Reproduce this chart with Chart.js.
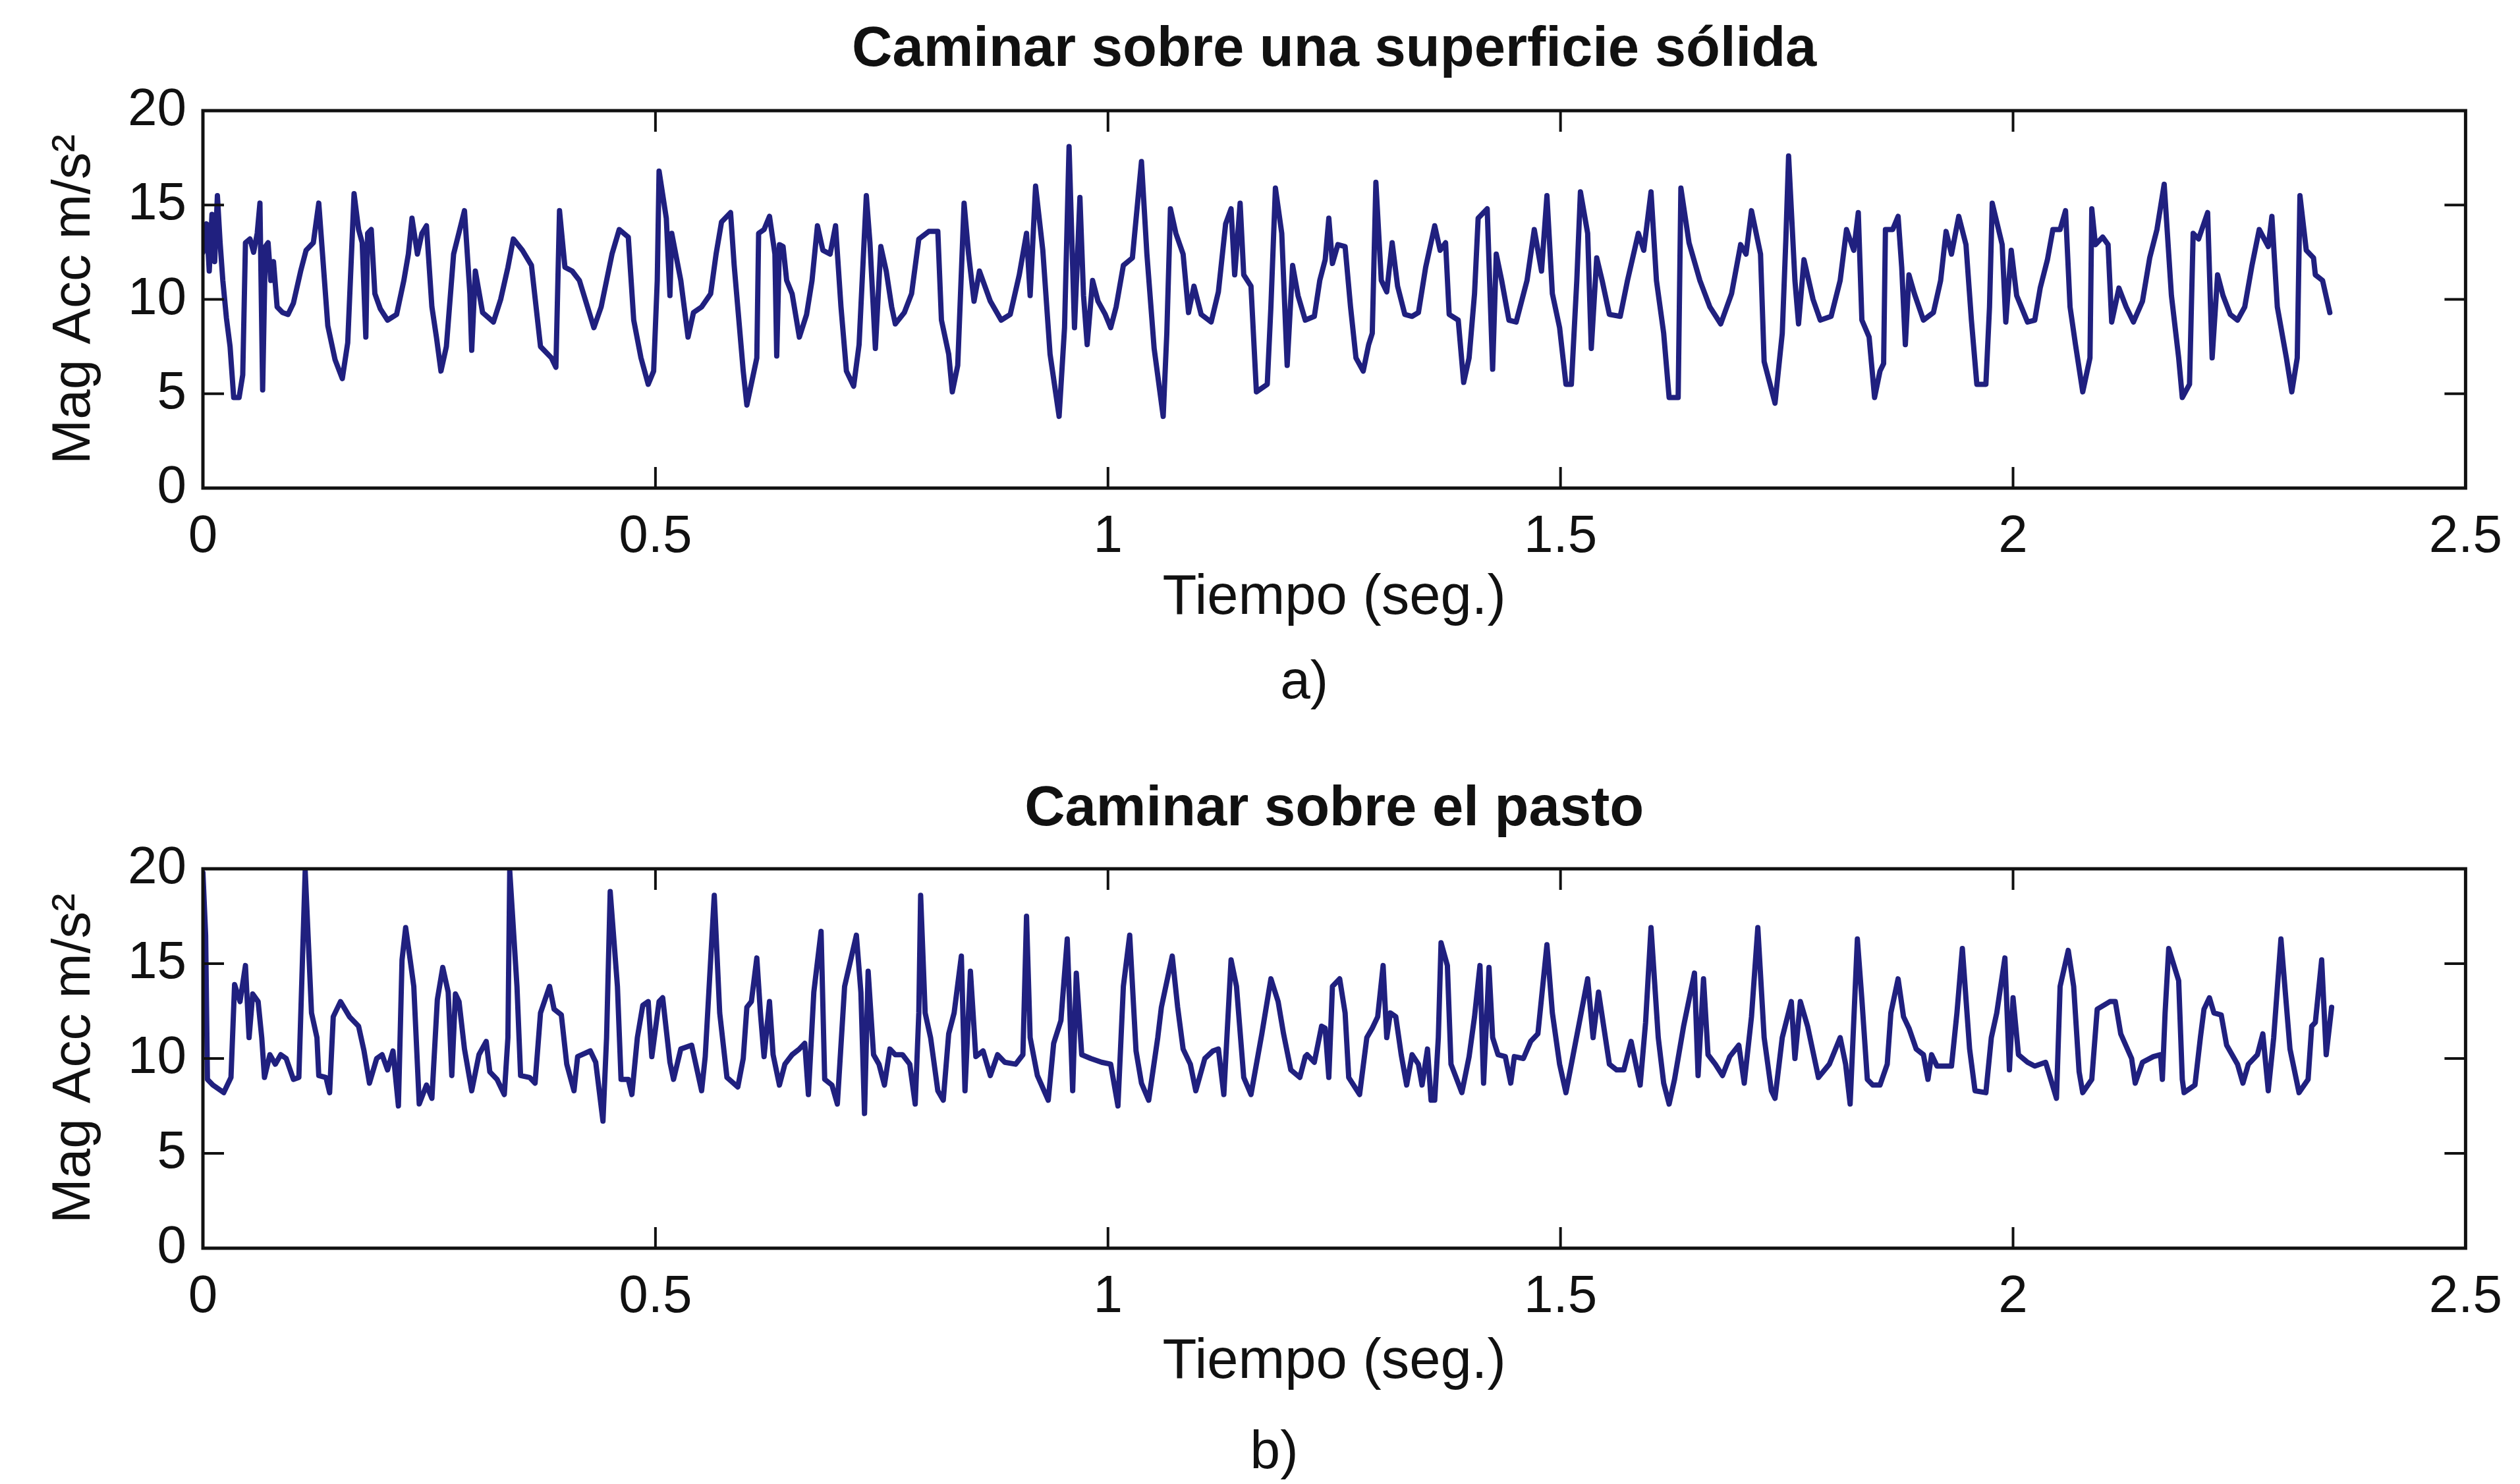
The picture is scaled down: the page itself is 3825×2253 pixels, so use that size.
<!DOCTYPE html>
<html>
<head>
<meta charset="utf-8">
<title>Caminar - magnitud de aceleracion</title>
<script src="https://cdn.jsdelivr.net/npm/chart.js@4.4.0/dist/chart.umd.min.js"></script>
<style>
  body { margin: 0; background: #fff; }
  canvas { position: absolute; left: 0; }
</style>
</head>
<body>
<canvas id="graficaA" width="3825" height="1130" style="top:0px"></canvas>
<canvas id="graficaB" width="3825" height="1123" style="top:1130px"></canvas>
<script>
const ticksX = [0, 0.5, 1, 1.5, 2, 2.5];
const ticksY = [0, 5, 10, 15, 20];

// [tiempo (seg), magnitud m/s2]
const solido = [
  [0.000,12.5],[0.004,14.0],[0.007,11.5],[0.010,14.5],[0.013,12.0],[0.016,15.5],[0.019,13.0],[0.022,11.0],[0.026,9.0],[0.030,7.5],
  [0.034,4.8],[0.040,4.8],[0.044,6.0],[0.047,13.0],[0.052,13.2],[0.056,12.5],[0.060,13.5],[0.063,15.1],[0.066,5.2],[0.069,12.8],
  [0.072,13.0],[0.075,11.0],[0.078,12.0],[0.082,9.6],[0.088,9.3],[0.094,9.2],[0.100,9.8],[0.108,11.5],[0.114,12.6],[0.122,13.0],
  [0.128,15.1],[0.132,12.5],[0.138,8.6],[0.146,6.8],[0.154,5.8],[0.160,7.7],[0.167,15.6],[0.172,13.7],[0.176,13.0],[0.180,8.0],
  [0.182,13.5],[0.186,13.7],[0.190,10.3],[0.196,9.5],[0.204,8.9],[0.214,9.2],[0.222,11.0],[0.227,12.4],[0.231,14.3],[0.237,12.4],
  [0.242,13.5],[0.247,13.9],[0.253,9.6],[0.258,8.0],[0.263,6.2],[0.269,7.5],[0.277,12.4],[0.289,14.7],[0.295,10.3],[0.297,7.3],
  [0.301,11.5],[0.309,9.3],[0.321,8.8],[0.329,10.0],[0.337,11.7],[0.343,13.2],[0.353,12.6],[0.363,11.8],[0.373,7.5],[0.385,6.9],
  [0.390,6.4],[0.394,14.7],[0.400,11.7],[0.408,11.5],[0.416,11.0],[0.432,8.5],[0.440,9.6],[0.452,12.4],[0.460,13.7],[0.470,13.3],
  [0.476,8.9],[0.484,6.9],[0.492,5.5],[0.498,6.2],[0.502,11.0],[0.504,16.8],[0.512,14.3],[0.516,10.2],[0.518,13.5],[0.528,11.0],
  [0.536,8.0],[0.542,9.3],[0.551,9.6],[0.561,10.3],[0.567,12.4],[0.573,14.1],[0.583,14.6],[0.587,11.8],[0.597,6.2],[0.601,4.4],
  [0.612,6.9],[0.614,13.5],[0.620,13.7],[0.626,14.4],[0.632,12.4],[0.634,7.0],[0.637,12.9],[0.641,12.8],[0.645,11.0],[0.651,10.3],
  [0.659,8.0],[0.667,9.2],[0.673,11.0],[0.679,13.9],[0.685,12.6],[0.693,12.4],[0.699,13.9],[0.705,9.6],[0.711,6.2],[0.719,5.4],
  [0.725,7.6],[0.727,9.6],[0.733,15.5],[0.737,13.0],[0.743,7.4],[0.749,12.8],[0.755,11.5],[0.761,9.6],[0.765,8.7],[0.775,9.3],
  [0.783,10.3],[0.791,13.2],[0.802,13.6],[0.812,13.6],[0.816,8.9],[0.824,7.1],[0.828,5.1],[0.834,6.5],[0.841,15.1],[0.846,12.4],
  [0.852,9.9],[0.858,11.5],[0.870,9.9],[0.882,8.9],[0.892,9.2],[0.902,11.3],[0.910,13.5],[0.914,10.2],[0.920,16.0],[0.928,12.6],
  [0.936,7.1],[0.946,3.8],[0.952,8.5],[0.957,18.1],[0.963,8.5],[0.969,15.4],[0.973,10.2],[0.977,7.6],[0.983,11.0],[0.989,9.9],
  [0.997,9.2],[1.003,8.5],[1.009,9.6],[1.017,11.8],[1.027,12.2],[1.037,17.3],[1.043,12.4],[1.051,7.4],[1.061,3.8],[1.065,8.2],
  [1.069,14.8],[1.075,13.5],[1.083,12.4],[1.089,9.3],[1.095,10.7],[1.103,9.2],[1.114,8.8],[1.122,10.4],[1.130,14.0],[1.136,14.8],
  [1.140,11.3],[1.146,15.1],[1.150,11.3],[1.158,10.7],[1.164,5.1],[1.176,5.5],[1.180,9.6],[1.185,15.9],[1.192,13.5],[1.198,6.5],
  [1.204,11.8],[1.210,10.2],[1.218,8.9],[1.228,9.1],[1.234,11.0],[1.240,12.1],[1.244,14.3],[1.248,11.9],[1.254,12.9],[1.262,12.8],
  [1.268,9.6],[1.274,6.9],[1.282,6.2],[1.288,7.6],[1.292,8.2],[1.296,16.2],[1.302,11.0],[1.308,10.4],[1.314,13.0],[1.320,10.7],
  [1.328,9.2],[1.336,9.1],[1.343,9.3],[1.351,11.7],[1.361,13.9],[1.367,12.6],[1.373,13.0],[1.377,9.2],[1.387,8.9],[1.393,5.6],
  [1.399,6.9],[1.405,10.3],[1.409,14.3],[1.419,14.8],[1.425,6.3],[1.429,12.4],[1.435,11.0],[1.443,8.9],[1.451,8.8],[1.463,11.0],
  [1.471,13.7],[1.479,11.5],[1.485,15.5],[1.491,10.3],[1.499,8.5],[1.506,5.5],[1.512,5.5],[1.518,11.0],[1.522,15.7],[1.530,13.5],
  [1.534,7.4],[1.540,12.2],[1.546,11.0],[1.554,9.2],[1.566,9.1],[1.574,11.0],[1.586,13.5],[1.592,12.6],[1.600,15.7],[1.606,11.0],
  [1.614,8.2],[1.620,4.8],[1.630,4.8],[1.633,15.9],[1.642,13.0],[1.654,11.0],[1.665,9.6],[1.677,8.7],[1.689,10.3],[1.699,12.9],
  [1.705,12.4],[1.711,14.7],[1.721,12.4],[1.725,6.7],[1.737,4.5],[1.745,8.2],[1.749,13.2],[1.752,17.6],[1.759,11.0],[1.763,8.7],
  [1.769,12.1],[1.779,10.0],[1.787,8.9],[1.799,9.1],[1.809,11.0],[1.816,13.7],[1.824,12.6],[1.829,14.6],[1.833,8.9],[1.841,8.0],
  [1.847,4.8],[1.853,6.2],[1.857,6.6],[1.859,13.7],[1.867,13.7],[1.873,14.4],[1.877,11.7],[1.881,7.6],[1.885,11.3],[1.891,10.3],
  [1.901,8.9],[1.912,9.3],[1.920,11.0],[1.926,13.6],[1.932,12.4],[1.940,14.4],[1.948,12.9],[1.954,8.9],[1.960,5.5],[1.970,5.5],
  [1.974,9.6],[1.977,15.1],[1.988,12.9],[1.992,8.8],[1.998,12.6],[2.004,10.2],[2.016,8.8],[2.024,8.9],[2.030,10.6],[2.038,12.1],
  [2.044,13.7],[2.052,13.7],[2.058,14.7],[2.063,9.6],[2.069,7.6],[2.077,5.1],[2.085,6.9],[2.087,14.8],[2.091,12.9],[2.099,13.3],
  [2.105,12.9],[2.109,8.8],[2.117,10.6],[2.125,9.6],[2.133,8.8],[2.143,9.9],[2.151,12.2],[2.159,13.7],[2.167,16.1],[2.175,10.2],
  [2.183,6.9],[2.187,4.8],[2.195,5.5],[2.199,13.5],[2.205,13.2],[2.215,14.6],[2.220,6.9],[2.226,11.3],[2.232,10.2],[2.240,9.2],
  [2.248,8.9],[2.256,9.6],[2.264,11.8],[2.272,13.7],[2.282,12.8],[2.286,14.4],[2.292,9.6],[2.302,6.9],[2.308,5.1],[2.314,6.9],
  [2.317,15.5],[2.324,12.6],[2.332,12.2],[2.334,11.3],[2.342,11.0],[2.350,9.3]
];

const pasto = [
  [0.000,19.8],[0.003,16.5],[0.005,8.9],[0.011,8.6],[0.023,8.2],[0.031,9.0],[0.035,13.9],[0.041,13.0],[0.047,14.9],[0.051,11.1],
  [0.055,13.4],[0.061,13.0],[0.065,11.1],[0.068,9.0],[0.074,10.2],[0.080,9.7],[0.086,10.2],[0.092,10.0],[0.100,8.9],[0.106,9.0],
  [0.113,19.9],[0.120,12.4],[0.126,11.1],[0.128,9.1],[0.136,9.0],[0.140,8.2],[0.144,12.2],[0.152,13.0],[0.162,12.2],[0.172,11.7],
  [0.178,10.4],[0.184,8.7],[0.192,10.0],[0.198,10.2],[0.204,9.4],[0.210,10.4],[0.216,7.5],[0.220,15.2],[0.224,16.9],[0.229,15.2],
  [0.233,13.8],[0.239,7.6],[0.247,8.6],[0.253,7.9],[0.259,13.1],[0.265,14.8],[0.271,13.5],[0.275,9.1],[0.279,13.4],[0.283,13.0],
  [0.289,10.5],[0.297,8.3],[0.305,10.2],[0.313,10.9],[0.317,9.3],[0.325,8.9],[0.333,8.1],[0.337,11.1],[0.339,19.9],[0.347,13.8],
  [0.351,9.1],[0.361,9.0],[0.367,8.7],[0.373,12.4],[0.383,13.8],[0.388,12.6],[0.396,12.3],[0.402,9.7],[0.410,8.3],[0.414,10.1],
  [0.428,10.4],[0.434,9.8],[0.442,6.7],[0.446,11.1],[0.450,18.8],[0.458,13.8],[0.462,8.9],[0.470,8.9],[0.474,8.1],[0.480,11.1],
  [0.486,12.8],[0.492,13.0],[0.496,10.1],[0.504,13.0],[0.508,13.2],[0.516,9.8],[0.520,8.9],[0.528,10.5],[0.540,10.7],[0.551,8.3],
  [0.555,10.1],[0.565,18.6],[0.571,12.4],[0.579,9.0],[0.591,8.5],[0.597,10.0],[0.601,12.7],[0.606,13.0],[0.612,15.3],[0.616,12.4],
  [0.620,10.1],[0.626,13.0],[0.630,10.2],[0.637,8.6],[0.643,9.7],[0.651,10.2],[0.659,10.5],[0.665,10.8],[0.669,8.1],[0.675,13.5],
  [0.683,16.7],[0.687,8.9],[0.695,8.6],[0.701,7.6],[0.709,13.8],[0.722,16.5],[0.727,13.5],[0.731,7.1],[0.735,14.6],[0.741,10.2],
  [0.747,9.7],[0.753,8.6],[0.759,10.5],[0.765,10.2],[0.773,10.2],[0.781,9.7],[0.787,7.6],[0.791,12.4],[0.793,18.6],[0.798,12.4],
  [0.804,11.1],[0.812,8.3],[0.818,7.8],[0.824,11.3],[0.830,12.4],[0.838,15.4],[0.842,8.3],[0.848,14.6],[0.854,10.1],[0.862,10.4],
  [0.870,9.1],[0.878,10.2],[0.886,9.8],[0.898,9.7],[0.906,10.2],[0.910,17.5],[0.914,11.1],[0.922,9.1],[0.934,7.8],[0.940,10.8],
  [0.948,12.0],[0.955,16.3],[0.961,8.3],[0.965,14.5],[0.971,10.2],[0.981,10.0],[0.993,9.8],[1.003,9.7],[1.011,7.5],[1.017,13.8],
  [1.024,16.5],[1.031,10.4],[1.037,8.7],[1.045,7.8],[1.055,11.1],[1.059,12.7],[1.071,15.4],[1.077,12.7],[1.083,10.5],[1.091,9.7],
  [1.097,8.3],[1.107,10.0],[1.116,10.4],[1.122,10.5],[1.128,8.1],[1.136,15.2],[1.142,13.8],[1.150,9.0],[1.158,8.1],[1.170,11.3],
  [1.180,14.2],[1.188,13.0],[1.194,11.3],[1.202,9.4],[1.212,9.0],[1.218,10.1],[1.220,10.2],[1.228,9.8],[1.236,11.7],[1.240,11.6],
  [1.244,9.0],[1.248,13.8],[1.256,14.2],[1.262,12.4],[1.266,9.0],[1.278,8.1],[1.286,11.1],[1.292,11.6],[1.298,12.2],[1.304,14.9],
  [1.308,11.1],[1.312,12.4],[1.318,12.2],[1.324,10.2],[1.330,8.6],[1.336,10.2],[1.343,9.7],[1.347,8.6],[1.353,10.5],[1.357,7.8],
  [1.361,7.8],[1.365,11.1],[1.368,16.1],[1.375,14.9],[1.379,9.7],[1.391,8.2],[1.399,10.1],[1.405,12.2],[1.411,14.9],[1.415,8.7],
  [1.421,14.8],[1.425,11.1],[1.431,10.2],[1.439,10.1],[1.445,8.7],[1.449,10.1],[1.459,10.0],[1.467,10.9],[1.475,11.3],[1.485,16.0],
  [1.491,12.4],[1.499,9.7],[1.506,8.2],[1.514,10.2],[1.522,12.2],[1.530,14.2],[1.536,11.1],[1.542,13.5],[1.548,11.6],[1.554,9.7],
  [1.562,9.4],[1.570,9.4],[1.578,10.9],[1.588,8.6],[1.594,11.9],[1.600,16.9],[1.608,11.1],[1.614,8.7],[1.620,7.6],[1.626,8.9],
  [1.636,11.7],[1.648,14.5],[1.652,9.1],[1.658,14.2],[1.663,10.2],[1.671,9.7],[1.679,9.1],[1.687,10.1],[1.697,10.7],[1.703,8.7],
  [1.711,12.2],[1.718,16.9],[1.725,11.1],[1.733,8.3],[1.737,7.9],[1.745,11.1],[1.755,13.0],[1.759,10.0],[1.765,13.0],[1.773,11.7],
  [1.785,9.0],[1.797,9.7],[1.809,11.1],[1.815,9.7],[1.820,7.6],[1.828,16.3],[1.833,13.1],[1.839,8.9],[1.845,8.6],[1.853,8.6],
  [1.861,9.7],[1.865,12.4],[1.873,14.2],[1.879,12.2],[1.885,11.6],[1.893,10.5],[1.901,10.2],[1.906,8.9],[1.910,10.2],[1.916,9.6],
  [1.932,9.6],[1.938,12.4],[1.944,15.8],[1.952,10.5],[1.958,8.3],[1.970,8.2],[1.976,11.1],[1.982,12.4],[1.991,15.3],[1.996,9.4],
  [2.000,13.2],[2.006,10.2],[2.016,9.8],[2.024,9.6],[2.036,9.8],[2.048,7.9],[2.052,13.8],[2.061,15.7],[2.067,13.8],[2.073,9.3],
  [2.077,8.2],[2.087,8.9],[2.093,12.6],[2.107,13.0],[2.113,13.0],[2.119,11.3],[2.131,10.0],[2.135,8.7],[2.143,9.8],[2.155,10.1],
  [2.163,10.2],[2.165,8.9],[2.168,12.4],[2.172,15.8],[2.183,14.1],[2.187,8.9],[2.189,8.2],[2.201,8.6],[2.207,11.1],[2.211,12.6],
  [2.217,13.2],[2.222,12.4],[2.230,12.3],[2.236,10.7],[2.248,9.7],[2.254,8.7],[2.260,9.7],[2.270,10.2],[2.276,11.3],[2.282,8.3],
  [2.288,11.1],[2.296,16.3],[2.306,10.5],[2.316,8.2],[2.326,8.9],[2.330,11.7],[2.334,11.9],[2.341,15.2],[2.346,10.2],[2.352,12.7]
];

const fuente = "'Liberation Sans', Arial, Helvetica, sans-serif";
const colorLinea = '#20207f';
const colorTexto = '#111';

// caja tipo matlab, marcas de los ejes hacia adentro
const cajaMatlab = {
  id: 'cajaMatlab',
  afterDatasetsDraw(chart) {
    const ctx = chart.ctx;
    const a = chart.chartArea;
    const x = chart.scales.x, y = chart.scales.y;
    const largo = 32;
    ctx.save();
    ctx.strokeStyle = colorTexto;
    ctx.lineWidth = 4;
    ctx.beginPath();
    x.ticks.forEach(function(t){
      if (t.value <= x.min || t.value >= x.max) return;
      const px = x.getPixelForValue(t.value);
      ctx.moveTo(px, a.bottom); ctx.lineTo(px, a.bottom - largo);
      ctx.moveTo(px, a.top); ctx.lineTo(px, a.top + largo);
    });
    y.ticks.forEach(function(t){
      if (t.value <= y.min || t.value >= y.max) return;
      const py = y.getPixelForValue(t.value);
      ctx.moveTo(a.left, py); ctx.lineTo(a.left + largo, py);
      ctx.moveTo(a.right, py); ctx.lineTo(a.right - largo, py);
    });
    ctx.stroke();
    ctx.lineWidth = 5;
    ctx.strokeRect(a.left, a.top, a.right - a.left, a.bottom - a.top);
    ctx.restore();
  }
};

function crearGrafica(id, titulo, letra, puntos, m) {
  const ctx = document.getElementById(id).getContext('2d');
  return new Chart(ctx, {
    type: 'line',
    data: {
      datasets: [{
        data: puntos.map(p => ({x: p[0], y: p[1]})),
        borderColor: colorLinea,
        borderWidth: 8,
        borderJoinStyle: 'round',
        borderCapStyle: 'round',
        pointRadius: 0,
        tension: 0,
        fill: false
      }]
    },
    options: {
      responsive: false,
      animation: false,
      devicePixelRatio: 1,
      layout: { padding: {left: 0, right: 67, top: 0, bottom: 0} },
      plugins: {
        legend: { display: false },
        tooltip: { enabled: false },
        title: {
          display: true, text: titulo, fullSize: false, color: colorTexto,
          font: {family: fuente, size: 85, weight: 'bold', lineHeight: 1.2},
          padding: m.tituloPad
        },
        subtitle: {
          display: true, text: letra, position: 'bottom', fullSize: false, color: colorTexto,
          font: {family: fuente, size: 82, weight: 'normal', lineHeight: 1},
          padding: m.letraPad
        }
      },
      scales: {
        x: {
          type: 'linear', min: 0, max: 2.5,
          afterBuildTicks: s => { s.ticks = ticksX.map(v => ({value: v})); },
          afterFit: s => { s.height = m.ejeXAlto; },
          grid: { display: false, drawTicks: false },
          border: { display: false },
          ticks: {
            padding: 27, color: colorTexto, maxRotation: 0,
            font: {family: fuente, size: 80},
            callback: v => String(v)
          },
          title: {
            display: true, text: 'Tiempo (seg.)', color: colorTexto,
            font: {family: fuente, size: 85}, padding: {top: 0, bottom: m.ejeXTituloPad}
          }
        },
        y: {
          type: 'linear', min: 0, max: 20,
          afterBuildTicks: s => { s.ticks = ticksY.map(v => ({value: v})); },
          afterFit: s => { s.width = 308; },
          grid: { display: false, drawTicks: false },
          border: { display: false },
          ticks: { padding: 25, color: colorTexto, font: {family: fuente, size: 80} },
          title: {
            display: true, text: 'Mag Acc m/s²', color: colorTexto,
            font: {family: fuente, size: 82}, padding: {top: 64, bottom: 0}
          }
        }
      }
    },
    plugins: [cajaMatlab]
  });
}

crearGrafica('graficaA', 'Caminar sobre una superficie sólida', 'a)    ', solido,
  {tituloPad: {top: 26, bottom: 40}, ejeXAlto: 255, ejeXTituloPad: 36, letraPad: {top: 0, bottom: 52}});
crearGrafica('graficaB', 'Caminar sobre el pasto', 'b)        ', pasto,
  {tituloPad: {top: 49, bottom: 38}, ejeXAlto: 270, ejeXTituloPad: 45, letraPad: {top: 0, bottom: 6}});
</script>
</body>
</html>
